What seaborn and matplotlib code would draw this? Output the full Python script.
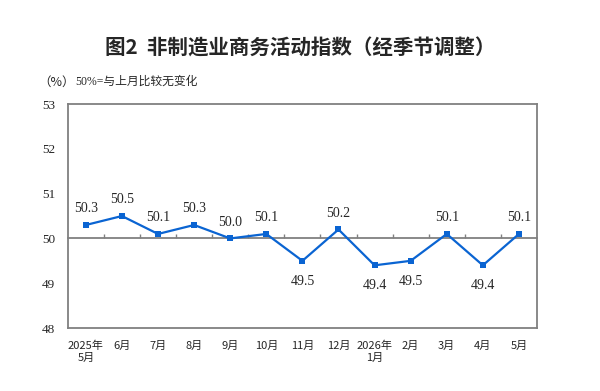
import matplotlib
matplotlib.use("Agg")
import matplotlib.pyplot as plt
import numpy as np
import pandas as pd
import seaborn as sns

# Non-manufacturing business activity index, seasonally adjusted
months = ['2025年\n5月', '6月', '7月', '8月', '9月', '10月', '11月', '12月',
          '2026年\n1月', '2月', '3月', '4月', '5月']
values = [50.3, 50.5, 50.1, 50.3, 50.0, 50.1, 49.5, 50.2, 49.4, 49.5, 50.1, 49.4, 50.1]
yticks = [48, 49, 50, 51, 52, 53]

sns.set_style('white')
plt.rcParams['font.family'] = ['Noto Sans CJK SC', 'DejaVu Sans']

df = pd.DataFrame({'pos': np.arange(len(months)), 'value': values})

fig = plt.figure(figsize=(6, 3.91), dpi=100)
ax = fig.add_axes([0.113, 0.161, 0.782, 0.573])

blue = '#0a64d2'
sns.lineplot(data=df, x='pos', y='value', ax=ax, color=blue, linewidth=1.6,
             marker='s', markersize=5, markeredgewidth=0, zorder=3)

ax.set_xlim(-0.5, len(months) - 0.5)
ax.set_ylim(yticks[0], yticks[-1])
ax.set_xlabel('')
ax.set_ylabel('')

frame = '#808080'
for s in ax.spines.values():
    s.set_color(frame)
    s.set_linewidth(1.3)

ax.set_yticks(yticks)
ax.set_yticklabels([str(t) for t in yticks], family='Liberation Serif', fontsize=9.5)
ax.tick_params(axis='y', direction='in', length=3, color=frame, width=1, pad=9)
ax.set_xticks(df['pos'])
ax.set_xticklabels(months, fontsize=8, linespacing=1.3)
ax.tick_params(axis='x', length=0, pad=9)

# reference line at 50 with small boundary ticks
sec = ax.secondary_xaxis((50 - yticks[0]) / (yticks[-1] - yticks[0]))
sec.spines['bottom'].set_color(frame)
sec.spines['bottom'].set_linewidth(1.3)
sec.set_xticks(np.arange(len(months) - 1) + 0.5)
sec.set_xticklabels([])
sec.tick_params(direction='in', length=3, color=frame, width=1)

for x, v in zip(df['pos'], values):
    if v < 50:
        ax.annotate(f'{v:.1f}', (x, v), xytext=(0, -10), textcoords='offset points',
                    ha='center', va='top', family='Liberation Serif', fontsize=10)
    else:
        ax.annotate(f'{v:.1f}', (x, v), xytext=(0, 7), textcoords='offset points',
                    ha='center', va='bottom', family='Liberation Serif', fontsize=10)

fig.text(0.5, 0.877, '图2  非制造业商务活动指数（经季节调整）', ha='center', va='center',
         fontsize=14.8, fontweight='bold')
fig.text(0.063, 0.79, '（%）', ha='left', va='center', fontsize=9,
         family=['Noto Sans CJK SC'])
fig.text(0.125, 0.79, '50%=与上月比较无变化', ha='left', va='center', fontsize=8.5,
         family=['Liberation Serif', 'Noto Sans CJK SC'])

fig.savefig('out.png', dpi=100)
